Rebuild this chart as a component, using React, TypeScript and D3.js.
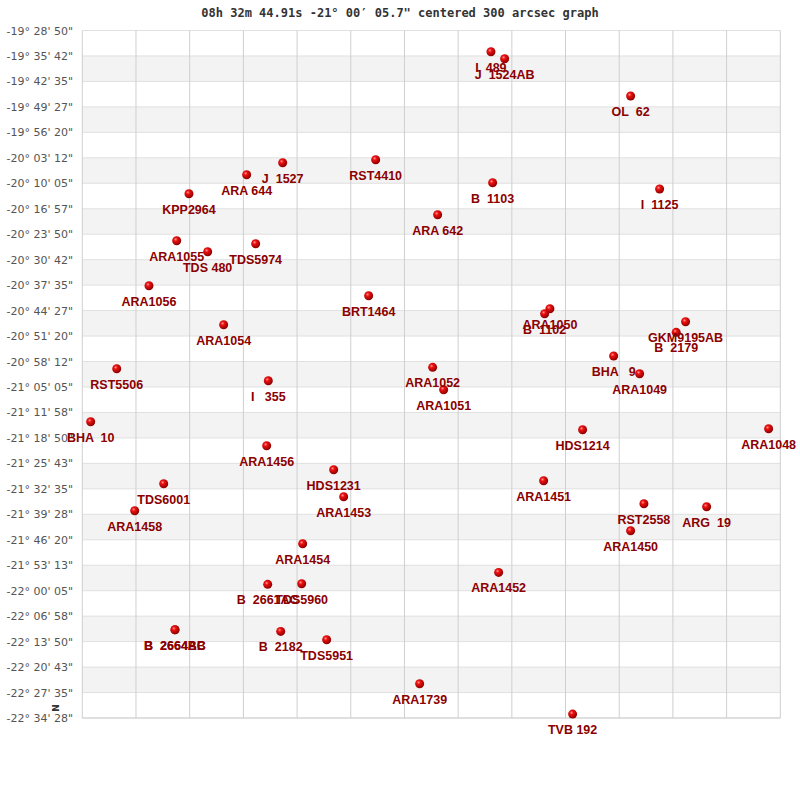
import React from "react";
import * as d3 from "d3";

// declination tick labels, one per grid row boundary
const decLabels = [
  `-19° 28' 50"`, `-19° 35' 42"`, `-19° 42' 35"`, `-19° 49' 27"`, `-19° 56' 20"`,
  `-20° 03' 12"`, `-20° 10' 05"`, `-20° 16' 57"`, `-20° 23' 50"`, `-20° 30' 42"`,
  `-20° 37' 35"`, `-20° 44' 27"`, `-20° 51' 20"`, `-20° 58' 12"`, `-21° 05' 05"`,
  `-21° 11' 58"`, `-21° 18' 50"`, `-21° 25' 43"`, `-21° 32' 35"`, `-21° 39' 28"`,
  `-21° 46' 20"`, `-21° 53' 13"`, `-22° 00' 05"`, `-22° 06' 58"`, `-22° 13' 50"`,
  `-22° 20' 43"`, `-22° 27' 35"`, `-22° 34' 28"`,
];

const nCols = 13;

// star names, RA offset (grid columns) and dec offset (grid rows)
const starNames = [
  "I  489", "J  1524AB", "OL  62", "J  1527", "ARA 644", "KPP2964", "RST4410", "B  1103",
  "ARA 642", "I  1125", "ARA1055", "TDS 480", "TDS5974", "ARA1056", "BRT1464", "ARA1054",
  "ARA1050", "B  1102", "GKM9195AB", "B  2179", "BHA   9", "ARA1049", "RST5506", "I   355",
  "ARA1052", "ARA1051", "BHA  10", "HDS1214", "ARA1048", "ARA1456", "HDS1231", "TDS6001",
  "ARA1451", "ARA1453", "RST2558", "ARG  19", "ARA1458", "ARA1450", "ARA1454", "ARA1452",
  "B  2661AC", "TDS5960", "B  2664AB", "B  2664BC", "B  2182", "TDS5951", "ARA1739", "TVB 192",
];
const starCol = [
  7.611, 7.866, 10.212, 3.732, 3.061, 1.987, 5.464, 7.642,
  6.618, 10.752, 1.758, 2.335, 3.229, 1.242, 5.333, 2.633,
  8.709, 8.611, 11.236, 11.061, 9.896, 10.38, 0.641, 3.464,
  6.525, 6.73, 0.156, 9.318, 12.782, 3.434, 4.682, 1.516,
  8.592, 4.868, 10.46, 11.628, 0.976, 10.212, 4.104, 7.754,
  3.453, 4.086, 1.726, 1.726, 3.695, 4.551, 6.283, 9.132,
];
const starRow = [
  0.833, 1.108, 2.573, 5.192, 5.664, 6.41, 5.075, 5.978,
  7.235, 6.225, 8.256, 8.688, 8.374, 10.024, 10.416, 11.555,
  10.927, 11.123, 11.437, 11.854, 12.785, 13.48, 13.284, 13.755,
  13.229, 14.108, 15.365, 15.68, 15.64, 16.308, 17.251, 17.8,
  17.683, 18.311, 18.586, 18.704, 18.861, 19.647, 20.157, 21.281,
  21.752, 21.728, 23.535, 23.535, 23.598, 23.928, 25.656, 26.846,
];

const title = `08h 32m 44.91s -21° 00′ 05.7" centered 300 arcsec graph`;

const W = 800;
const H = 800;
const left = 82.3;
const right = 780.3;
const top = 30.5;
const bottom = 718;

export default function App() {
  const x = d3.scaleLinear().domain([0, nCols]).range([left, right]);
  const y = d3.scaleLinear().domain([0, decLabels.length - 1]).range([top, bottom]);

  const rows = d3.range(decLabels.length - 1);
  const cols = d3.range(nCols + 1);
  const stars = starNames.map((name, i) => ({ name, c: starCol[i], r: starRow[i] }));

  return (
    <svg
      width={W}
      height={H}
      style={{ position: "absolute", left: 0, top: 0, background: "#fff" }}
    >
      <defs>
        <radialGradient id="ball" cx="38%" cy="35%" r="65%">
          <stop offset="0%" stopColor="#ff9a9a" />
          <stop offset="30%" stopColor="#f01010" />
          <stop offset="100%" stopColor="#8a0000" />
        </radialGradient>
      </defs>

      <text
        x={400}
        y={17}
        textAnchor="middle"
        fontFamily="'DejaVu Sans Mono', monospace"
        fontWeight="bold"
        fontSize={12}
        fill="#333"
        style={{ whiteSpace: "pre" }}
      >
        {title}
      </text>

      {/* alternating row bands */}
      {rows
        .filter((i) => i % 2 === 1)
        .map((i) => (
          <rect
            key={"band" + i}
            x={left}
            y={y(i)}
            width={right - left}
            height={y(i + 1) - y(i)}
            fill="#f3f3f3"
          />
        ))}

      {/* horizontal grid */}
      {decLabels.map((_, i) => (
        <line
          key={"h" + i}
          x1={left}
          x2={right}
          y1={y(i)}
          y2={y(i)}
          stroke="#e0e0e0"
          strokeWidth={1}
        />
      ))}

      {/* vertical grid */}
      {cols.map((c) => (
        <line
          key={"v" + c}
          x1={x(c)}
          x2={x(c)}
          y1={top}
          y2={bottom}
          stroke="#cfcfcf"
          strokeWidth={1}
        />
      ))}
      <line x1={left} x2={right} y1={bottom} y2={bottom} stroke="#cfcfcf" />

      {/* dec labels */}
      {decLabels.map((lab, i) => (
        <text
          key={"l" + i}
          x={73}
          y={y(i) + 4}
          textAnchor="end"
          fontFamily="'DejaVu Sans', sans-serif"
          fontSize={11}
          fill="#555"
        >
          {lab}
        </text>
      ))}

      <text
        transform={`translate(59,708) rotate(-90)`}
        textAnchor="middle"
        fontFamily="'DejaVu Sans', sans-serif"
        fontWeight="bold"
        fontSize={9}
        fill="#333"
      >
        N
      </text>

      {stars.map((s, i) => (
        <circle key={"p" + i} cx={x(s.c)} cy={y(s.r)} r={4.5} fill="url(#ball)" />
      ))}

      {stars.map((s, i) => (
        <text
          key={"t" + i}
          x={x(s.c)}
          y={y(s.r) + 20}
          textAnchor="middle"
          fontFamily="'Liberation Sans', Arial, sans-serif"
          fontWeight="bold"
          fontSize={12.5}
          fill="#8b0000"
          style={{ whiteSpace: "pre" }}
        >
          {s.name}
        </text>
      ))}
    </svg>
  );
}
